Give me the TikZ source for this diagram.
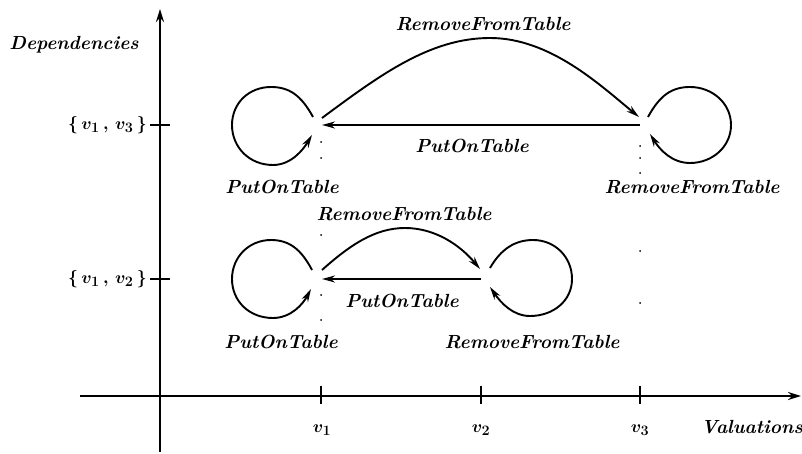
\documentclass[tikz,border=0pt]{standalone}
\usetikzlibrary{arrows.meta}
\begin{document}
\begin{tikzpicture}[x=1pt,y=-1pt,
  axis/.style={line width=2.8pt,-{Stealth[length=13pt,width=8pt]}},
  tick/.style={line width=2pt},
  edge/.style={line width=1.9pt,-{Stealth[length=13pt,width=7pt]}},
  lbl/.style={font=\fontsize{19}{21}\selectfont\bfseries\itshape,inner sep=0pt},
  mlbl/.style={font=\fontsize{19}{21}\selectfont\boldmath,inner sep=0pt},
  dot/.style={fill=black}]
\useasboundingbox (0,0) rectangle (802,454);
% axes
\coordinate (O) at (160,396);
\coordinate (ytop) at (160,9);
\coordinate (ybot) at (160,452);
\coordinate (xl) at (80,396);
\coordinate (xr) at (801,396);
\draw[axis] (ybot) -- (ytop);
\draw[axis] (xl) -- (xr);
% ticks
\draw[tick] (150,125) -- (170,125);
\draw[tick] (150,279) -- (170,279);
\draw[tick] (321,386) -- (321,404);
\draw[tick] (481,386) -- (481,404);
\draw[tick] (640,386) -- (640,404);
% axis labels
\node[lbl] (dep) at (74,45) {Dependencies};
\node[mlbl,anchor=east] (l13) at (147,125) {$\{\,v_1\,,\,v_3\,\}$};
\node[mlbl,anchor=east] (l12) at (147,279) {$\{\,v_1\,,\,v_2\,\}$};
\node[mlbl] (v1) at (322,430) {$v_1$};
\node[mlbl] (v2) at (481,430) {$v_2$};
\node[mlbl] (v3) at (640,430) {$v_3$};
\node[lbl] (val) at (752,427) {Valuations};
% sparse dots
\foreach \y in {142,158,235,295,320} \fill[dot] (321,\y) circle (1);
\foreach \y in {146,158,173,251,303} \fill[dot] (640,\y) circle (1);
% states
\coordinate (A) at (321,125);
\coordinate (B) at (640,125);
\coordinate (C) at (321,279);
\coordinate (D) at (481,279);
% top level edges
\draw[edge] ([shift={(1,-7)}]A) .. controls (380,75) and (430,38) .. (490,38)
  .. controls (550,38) and (600,85) .. ([shift={(-1,-8)}]B);
\draw[edge] (B) -- ([shift={(1,0)}]A);
% bottom level edges
\draw[edge] ([shift={(1,-9)}]C) .. controls (350,245) and (375,228) .. (405,228)
  .. controls (435,228) and (460,245) .. ([shift={(-1,-10)}]D);
\draw[edge] (D) -- ([shift={(1,0)}]C);
% loops
\draw[edge,shift={(A)}] (-8,-8) .. controls (-20,-30) and (-32,-38) .. (-50,-38)
  .. controls (-72,-38) and (-89,-22) .. (-89,0)
  .. controls (-89,22) and (-72,40) .. (-48,40)
  .. controls (-30,40) and (-18,25) .. (-9,10);
\draw[edge,shift={(C)}] (-9,-9) .. controls (-20,-30) and (-32,-39) .. (-50,-39)
  .. controls (-72,-39) and (-89,-22) .. (-89,0)
  .. controls (-89,22) and (-72,39) .. (-48,39)
  .. controls (-30,39) and (-18,25) .. (-10,10);
\draw[edge,shift={(B)}] (8,-8) .. controls (20,-30) and (32,-38) .. (50,-38)
  .. controls (72,-38) and (91,-22) .. (91,0)
  .. controls (91,22) and (72,38) .. (50,38)
  .. controls (32,38) and (20,25) .. (10,9);
\draw[edge,shift={(D)}] (9,-11) .. controls (20,-30) and (34,-39) .. (52,-39)
  .. controls (74,-39) and (91,-22) .. (91,0)
  .. controls (91,22) and (72,37) .. (49,37)
  .. controls (32,37) and (20,24) .. (9,8);
% edge labels
\node[lbl] (t1) at (483,24) {RemoveFromTable};
\node[lbl] (t2) at (472,146) {PutOnTable};
\node[lbl] (t3) at (282,187) {PutOnTable};
\node[lbl] (t4) at (692,187) {RemoveFromTable};
\node[lbl] (t5) at (404,214) {RemoveFromTable};
\node[lbl] (t6) at (402,301) {PutOnTable};
\node[lbl] (t7) at (281,342) {PutOnTable};
\node[lbl] (t8) at (532,342) {RemoveFromTable};
\end{tikzpicture}
\end{document}
